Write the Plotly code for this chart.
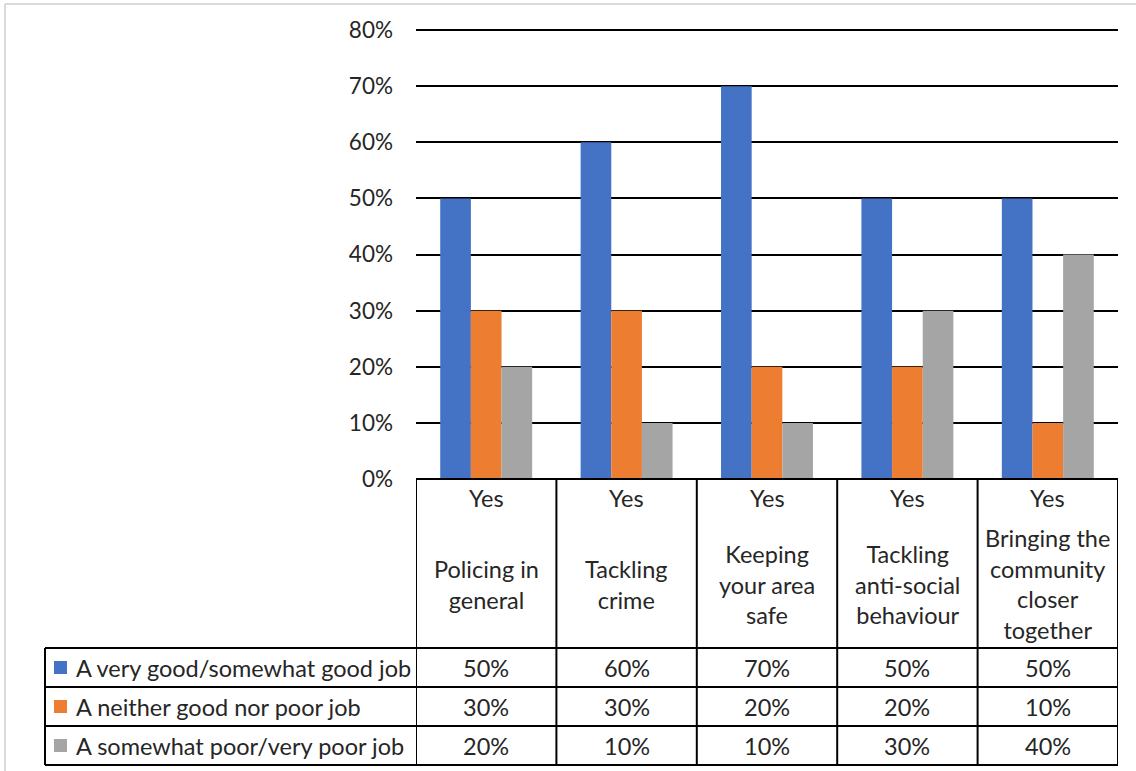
import plotly.graph_objects as go

# data
GROUP_LABEL = "Yes"
CATEGORIES = [
    "Policing in\ngeneral",
    "Tackling\ncrime",
    "Keeping\nyour area\nsafe",
    "Tackling\nanti-social\nbehaviour",
    "Bringing the\ncommunity\ncloser\ntogether",
]
SERIES_NAMES = [
    "A very good/somewhat good job",
    "A neither good nor poor job",
    "A somewhat poor/very poor job",
]
GOOD = [0.5, 0.6, 0.7, 0.5, 0.5]
NEITHER = [0.3, 0.3, 0.2, 0.2, 0.1]
POOR = [0.2, 0.1, 0.1, 0.3, 0.4]
SERIES_VALUES = [GOOD, NEITHER, POOR]
SERIES_COLORS = ["#4472C4", "#ED7D31", "#A5A5A5"]
Y_MAX = 0.8

# page geometry (pixels in the reference picture)
W, H = 1136, 771
PL, PR, PT, PB = 416, 1118, 30, 479
HEAD_B = 648
ROW_H = 39
TABLE_L = 45
FONT = "Lato, Calibri, sans-serif"
TXT = "#262626"


def px(x):
    return (x - PL) / (PR - PL)


def py(y):
    return (PB - y) / (PB - PT)


x_keys = [c.replace("\n", " ") for c in CATEGORIES]

fig = go.Figure()
for name, vals, color in zip(SERIES_NAMES, SERIES_VALUES, SERIES_COLORS):
    fig.add_trace(
        go.Bar(x=x_keys, y=vals, name=name, marker={"color": color, "line": {"width": 0}},
               showlegend=False)
    )

line = {"color": "#000000", "width": 2}
shapes = []
# outer chart frame (light grey, runs off the canvas right/bottom)
shapes.append(dict(type="line", xref="paper", yref="paper", x0=px(5), x1=px(1200),
                   y0=py(4), y1=py(4), line={"color": "#D9D9D9", "width": 2}))
shapes.append(dict(type="line", xref="paper", yref="paper", x0=px(5), x1=px(5),
                   y0=py(4), y1=py(900), line={"color": "#D9D9D9", "width": 2}))
# top gridline (plotly skips gridlines on the range edge)
shapes.append(dict(type="line", xref="paper", yref="paper", x0=0, x1=1, y0=1, y1=1,
                   line=line))

n = len(CATEGORIES)
bottom = HEAD_B + ROW_H * len(SERIES_NAMES)
# column dividers of the data table
for i in range(n + 1):
    shapes.append(dict(type="line", xref="x", yref="paper", x0=i - 0.5, x1=i - 0.5,
                       y0=py(PB), y1=py(bottom), line=line))
shapes.append(dict(type="line", xref="paper", yref="paper", x0=px(PL), x1=px(PR),
                   y0=py(PB), y1=py(PB), line=line))
# row lines
for r in range(len(SERIES_NAMES) + 1):
    y = HEAD_B + r * ROW_H
    shapes.append(dict(type="line", xref="paper", yref="paper", x0=px(TABLE_L), x1=px(PR),
                       y0=py(y), y1=py(y), line=line))
shapes.append(dict(type="line", xref="paper", yref="paper", x0=px(TABLE_L), x1=px(TABLE_L),
                   y0=py(HEAD_B), y1=py(bottom), line=line))

annotations = []
font = {"family": FONT, "size": 23.5, "color": TXT}
for i, cat in enumerate(CATEGORIES):
    annotations.append(dict(x=x_keys[i], xref="x", y=py(498), yref="paper", text=GROUP_LABEL,
                            showarrow=False, font=font, xanchor="center", yanchor="middle"))
    annotations.append(dict(x=x_keys[i], xref="x", y=py(584), yref="paper",
                            text=cat.replace("\n", "<br>"), showarrow=False, font=font,
                            xanchor="center", yanchor="middle", align="center"))

for r, (name, vals, color) in enumerate(zip(SERIES_NAMES, SERIES_VALUES, SERIES_COLORS)):
    yc = HEAD_B + r * ROW_H + ROW_H / 2
    shapes.append(dict(type="rect", xref="paper", yref="paper", x0=px(54), x1=px(67),
                       y0=py(yc - 6.5), y1=py(yc + 6.5), fillcolor=color, line={"width": 0}))
    annotations.append(dict(x=px(74), xref="paper", y=py(yc), yref="paper", text=name,
                            showarrow=False, font=font, xanchor="left", yanchor="middle"))
    for i, v in enumerate(vals):
        annotations.append(dict(x=x_keys[i], xref="x", y=py(yc), yref="paper",
                                text=f"{v:.0%}", showarrow=False, font=font,
                                xanchor="center", yanchor="middle"))

fig.update_layout(
    width=W,
    height=H,
    margin={"l": PL, "r": W - PR, "t": PT, "b": H - PB, "pad": 0},
    paper_bgcolor="#ffffff",
    plot_bgcolor="#ffffff",
    barmode="group",
    bargap=0.345,
    bargroupgap=0,
    font={"family": FONT, "size": 22, "color": TXT},
    shapes=shapes,
    annotations=annotations,
)
fig.update_xaxes(showticklabels=False, showgrid=False, zeroline=False, showline=False,
                 range=[-0.5, n - 0.5])
fig.update_yaxes(range=[0, Y_MAX], dtick=0.1, tickformat=".0%", showgrid=True,
                 gridcolor="#000000", gridwidth=2, zeroline=False, showline=False,
                 ticklabelstandoff=22, tickfont={"family": FONT, "size": 22.5, "color": TXT})

# drop the browser's default 8px body margin so the figure sits at the page corner
fig.write_html(
    "out.html",
    config={"displayModeBar": False},
    post_script="document.body.style.margin='0';document.body.style.overflow='hidden';",
)
